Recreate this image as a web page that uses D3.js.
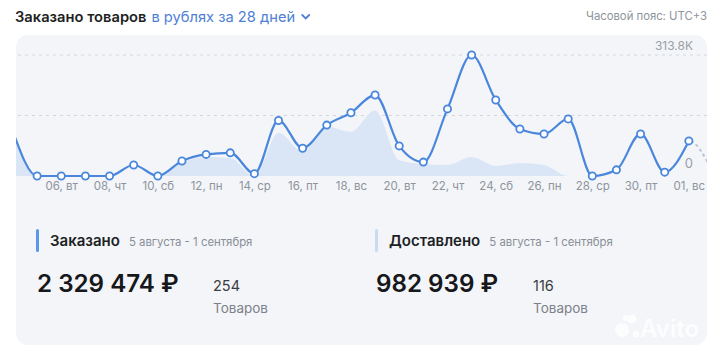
<!DOCTYPE html>
<html><head><meta charset="utf-8">
<script src="https://cdn.jsdelivr.net/npm/d3@7"></script>
<style>
html,body{margin:0;padding:0;background:#fff;}
svg{display:block;font-family:Inter,Roboto,"Noto Sans",sans-serif;}
</style></head>
<body>
<svg id="c" width="720" height="353"></svg>
<script>
// ---- data ----
const days = ["04, вс","05, пн","06, вт","07, ср","08, чт","09, пт","10, сб","11, вс","12, пн","13, вт","14, ср","15, чт","16, пт","17, сб","18, вс","19, пн","20, вт","21, ср","22, чт","23, пт","24, сб","25, вс","26, пн","27, вт","28, ср","29, чт","30, пт","31, сб","01, вс","02, пн"];
const ordered = [115,0,0,0,0,28.5,0,39,56,60,6,144,72,132,164,210,78,36,174,313.8,197,122,109,148,0,16,109,10,91,8]; // thousands RUB
const delivered = [110,0,0,0,0,0,0,34,49,47,0,112,63,128,115,170,41,31,28.5,49,26,34,28.5,0,0,0,0,0,0,0];
const tickLabels = ["06, вт","08, чт","10, сб","12, пн","14, ср","16, пт","18, вс","20, вт","22, чт","24, сб","26, пн","28, ср","30, пт","01, вс"];
const yMax = 313.8;
const yTickLabels = ["0","313.8K"];
const summary = [
  {title:"Заказано", period:"5 августа - 1 сентября", sum:"2 329 474 ₽", count:"254", unit:"Товаров", bar:"#5b97e8"},
  {title:"Доставлено", period:"5 августа - 1 сентября", sum:"982 939 ₽", count:"116", unit:"Товаров", bar:"#c9dbf3"}
];

const svg = d3.select("#c");

// header
const hdr = svg.append("text").attr("x",15).attr("y",22).style("font-size","14.7px");
hdr.append("tspan").attr("font-weight",600).attr("fill","#1d1f23").text("Заказано товаров");
const blue = hdr.append("tspan").attr("dx",5).attr("fill","#4f7fd6").text("в рублях за 28 дней");
const hb = hdr.node().getBBox();
const chx = hb.x + hb.width + 7;
svg.append("path").attr("d",`M${chx},15 l3.5,3.5 l3.5,-3.5`).attr("fill","none").attr("stroke","#4f7fd6").attr("stroke-width",1.8).attr("stroke-linecap","round");
svg.append("text").attr("x",707).attr("y",20).attr("text-anchor","end").style("font-size","11.3px").attr("fill","#8d939b").text("Часовой пояс: UTC+3");

// panel
const px0=16, px1=707, py0=35, py1=345;
svg.append("rect").attr("x",px0).attr("y",py0).attr("width",px1-px0).attr("height",py1-py0).attr("rx",12).attr("fill","#f3f5f9");
svg.append("clipPath").attr("id","clip").append("rect").attr("x",px0).attr("y",py0).attr("width",px1-px0).attr("height",200);

const x = d3.scalePoint().domain(days).range([13,713]);
const y = d3.scaleLinear().domain([0,yMax]).range([176,55]);

const g = svg.append("g").attr("clip-path","url(#clip)");

// gridlines
[yMax, yMax/2].forEach(v=>{
  g.append("line").attr("x1",px0+2).attr("x2",px1).attr("y1",y(v)).attr("y2",y(v))
   .attr("stroke","#d3d7dd").attr("stroke-width",1).attr("stroke-dasharray","3,4");
});

// delivered area
const area = d3.area().x((d,i)=>x(days[i])).y0(y(0)).y1(d=>y(d)).curve(d3.curveMonotoneX);
g.append("path").datum(delivered).attr("d",area).attr("fill","#dae6f6");

// ordered line
const line = d3.line().x((d,i)=>x(days[i])).y(d=>y(d)).curve(d3.curveMonotoneX);
svg.append("clipPath").attr("id","clipR").append("rect").attr("x",x(days[days.length-2])).attr("y",py0).attr("width",100).attr("height",200);
g.append("g").attr("clip-path","url(#clipR)").append("path").datum(ordered).attr("d",line)
  .attr("fill","none").attr("stroke","#b8c6da").attr("stroke-width",2).attr("stroke-dasharray","3,3");
const solid = ordered.slice(0,ordered.length-1);
g.append("path").datum(solid).attr("d",line).attr("fill","none").attr("stroke","#4a87dc").attr("stroke-width",2.2);
g.selectAll("circle").data(solid.slice(1)).join("circle")
  .attr("cx",(d,i)=>x(days[i+1])).attr("cy",d=>y(d)).attr("r",3.6)
  .attr("fill","#fff").attr("stroke","#4a87dc").attr("stroke-width",1.8);

// y labels
svg.append("text").attr("x",693).attr("y",50).attr("text-anchor","end").style("font-size","12px").attr("fill","#9a9fa7").text(yTickLabels[1]);
svg.append("text").attr("x",693).attr("y",168).attr("text-anchor","end").style("font-size","13px").attr("fill","#9a9fa7").text(yTickLabels[0]);

// x axis labels
const xa = svg.append("g").attr("transform","translate(0,182)")
  .call(d3.axisBottom(x).tickValues(tickLabels).tickSize(0).tickPadding(0));
xa.select(".domain").remove();
xa.selectAll("text").attr("fill","#8e949c").style("font-size","11.5px").style("font-family","Inter,Roboto,sans-serif").attr("dy","0.71em");

// summary blocks
const bx=[37,376];
summary.forEach((s,k)=>{
  const b = svg.append("g").attr("transform",`translate(${bx[k]},0)`);
  b.append("rect").attr("x",-1).attr("y",229).attr("width",3).attr("height",23).attr("rx",1.5).attr("fill",s.bar);
  const t = b.append("text").attr("x",13).attr("y",246);
  t.append("tspan").attr("font-weight",600).style("font-size","15px").attr("fill","#1d1f23").text(s.title);
  t.append("tspan").attr("dx",9).style("font-size","11.4px").attr("fill","#8a8f97").text(s.period);
  b.append("text").attr("x",0).attr("y",292).attr("font-weight",600).style("font-size","24.2px").attr("fill","#16181c").text(s.sum);
  const cx = k===0?176:157;
  b.append("text").attr("x",cx).attr("y",291).style("font-size","14.5px").attr("fill","#3a3d42").text(s.count);
  b.append("text").attr("x",cx).attr("y",313).style("font-size","13.5px").attr("fill","#7c8189").text(s.unit);
});

// watermark
const wm = svg.append("g").attr("opacity",0.85);
[[622,330,7],[632,319,4.5],[636,334,3.5],[626,318,3]].forEach(c=>wm.append("circle").attr("cx",c[0]).attr("cy",c[1]).attr("r",c[2]).attr("fill","#fff"));
wm.append("text").attr("x",640).attr("y",337).style("font-size","24px").attr("font-weight",600).attr("fill","#fff").text("Avito");
</script>
</body></html>
